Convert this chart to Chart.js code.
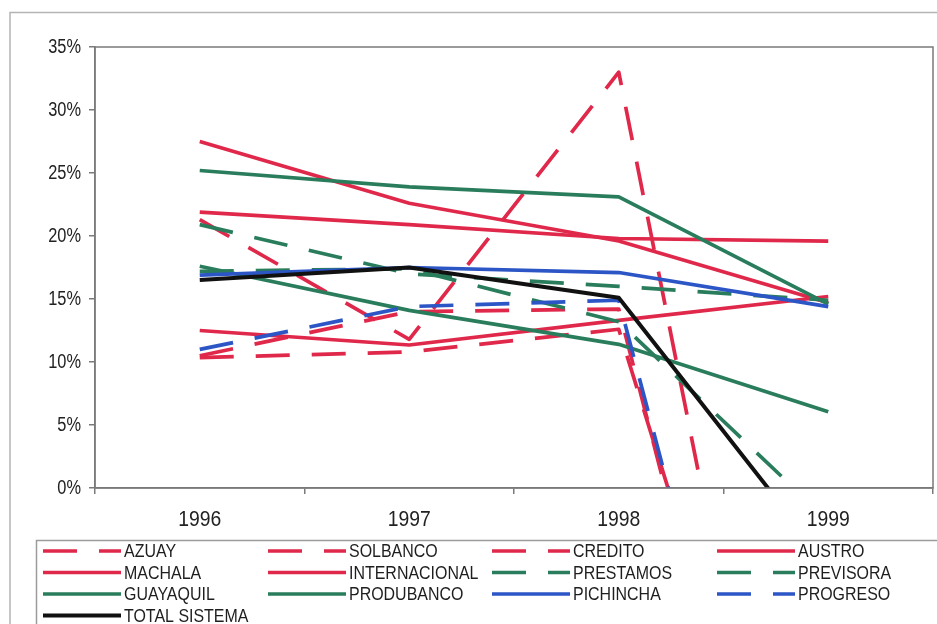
<!DOCTYPE html>
<html>
<head>
<meta charset="utf-8">
<script src="https://cdn.jsdelivr.net/npm/chart.js@4/dist/chart.umd.min.js"></script>
<style>
  html, body { margin: 0; padding: 0; background: #fff; }
  #wrap { position: relative; width: 937px; height: 624px; }
</style>
</head>
<body>
<div id="wrap"><canvas id="c" width="937" height="624"></canvas></div>
<script>
// Years on the category axis
const years = ['1996', '1997', '1998', '1999'];

// Return per bank, in percent
const azuay         = [21.3, 11.8, 33.0, -50.5];
const solbanco      = [10.5, 14.0, 14.2, -50.0];
const credito       = [10.35, 10.8, 12.6, -41.0];
const austro        = [21.9, 20.9, 19.8, 19.6];
const machala       = [27.5, 22.6, 19.6, 14.7];
const internacional = [12.5, 11.35, 13.3, 15.2];
const prestamos     = [17.2, 17.4, 13.2, -2.6];
const previsora     = [20.9, 17.0, 16.0, 14.9];
const guayaquil     = [25.2, 23.9, 23.1, 14.6];
const produbanco    = [17.6, 14.1, 11.4, 6.05];
const pichincha     = [16.9, 17.5, 17.1, 14.4];
const progreso      = [11.0, 14.4, 14.9, -48.0];
const totalSistema  = [16.5, 17.5, 15.1, -6.1];

// Axis range and tick step (percent)
const yMin = 0, yMax = 35, yStep = 5;

const RED = '#e0284b', GREEN = '#2a7d5c', BLUE = '#2c55c6', BLACK = '#111111';
const DASH = [34, 22];
const FONT = '"Liberation Sans", Arial, sans-serif';
const SQUEEZE = 0.84;   // narrow lettering, as in a condensed Arial

function series(label, data, color, dashed, width) {
  return {
    label, data,
    borderColor: color,
    backgroundColor: color,
    borderWidth: width || 3.7,
    borderDash: dashed ? DASH : [],
    borderCapStyle: 'butt',
    borderJoinStyle: 'round',
    pointRadius: 0,
    tension: 0,
    fill: false,
    clip: 0
  };
}

const datasets = [
  series('AZUAY', azuay, RED, true),
  series('SOLBANCO', solbanco, RED, true),
  series('CREDITO', credito, RED, true),
  series('AUSTRO', austro, RED, false),
  series('MACHALA', machala, RED, false),
  series('INTERNACIONAL', internacional, RED, false),
  series('PRESTAMOS', prestamos, GREEN, true),
  series('PREVISORA', previsora, GREEN, true),
  series('GUAYAQUIL', guayaquil, GREEN, false),
  series('PRODUBANCO', produbanco, GREEN, false),
  series('PICHINCHA', pichincha, BLUE, false),
  series('PROGRESO', progreso, BLUE, true),
  series('TOTAL SISTEMA', totalSistema, BLACK, false, 4)
];
// later series painted over earlier ones
datasets.forEach((d, i) => { d.order = -i; });

function squeezedText(ctx, text, x, y, align, sx) {
  ctx.save();
  ctx.translate(x, y);
  ctx.scale(sx, 1);
  ctx.textAlign = align;
  ctx.fillText(text, 0, 0);
  ctx.restore();
}

// Frame around the plot, axis lettering, outer border and the four-column key
const framePlugin = {
  id: 'frameAndKey',
  afterDraw(chart) {
    const ctx = chart.ctx;
    const a = chart.chartArea;
    ctx.save();
    // outer chart border
    ctx.strokeStyle = '#b4b4b4';
    ctx.lineWidth = 1.5;
    ctx.beginPath();
    ctx.moveTo(10, 640); ctx.lineTo(10, 12.5); ctx.lineTo(940, 12.5);
    ctx.stroke();
    // plot area box
    ctx.strokeStyle = '#7a7a7a';
    ctx.lineWidth = 1.5;
    ctx.strokeRect(a.left, a.top, a.right - a.left, a.bottom - a.top);

    // value axis labels
    const ys = chart.scales.y;
    ctx.fillStyle = '#222';
    ctx.textBaseline = 'middle';
    ctx.font = '19.5px ' + FONT;
    ys.ticks.forEach(t => {
      squeezedText(ctx, t.value + '%', a.left - 14, ys.getPixelForValue(t.value) + 1, 'right', SQUEEZE);
    });
    // category labels
    const xs = chart.scales.x;
    ctx.font = '22px ' + FONT;
    xs.ticks.forEach((t, i) => {
      squeezedText(ctx, chart.data.labels[i], xs.getPixelForTick(i), a.bottom + 32, 'center', 0.88);
    });

    // key box
    ctx.strokeStyle = '#9c9c9c';
    ctx.lineWidth = 1.5;
    ctx.strokeRect(36.5, 540.5, 960, 120);
    // key entries
    const colX = [43, 268, 492, 717];
    const rowY = [551, 572.5, 594, 615.5];
    ctx.font = '19px ' + FONT;
    ctx.textBaseline = 'middle';
    chart.data.datasets.forEach((ds, i) => {
      const x0 = colX[i % 4];
      const y = rowY[Math.floor(i / 4)];
      ctx.beginPath();
      ctx.setLineDash(ds.borderDash || []);
      ctx.strokeStyle = ds.borderColor;
      ctx.lineWidth = ds.borderWidth;
      ctx.lineCap = 'butt';
      ctx.moveTo(x0, y);
      ctx.lineTo(x0 + 78, y);
      ctx.stroke();
      ctx.setLineDash([]);
      ctx.fillStyle = '#1e1e1e';
      squeezedText(ctx, ds.label, x0 + 81, y + 1, 'left', SQUEEZE);
    });
    ctx.restore();
  }
};

new Chart(document.getElementById('c'), {
  type: 'line',
  data: { labels: years, datasets },
  options: {
    responsive: false,
    animation: false,
    devicePixelRatio: 1,
    layout: { padding: { left: 0, right: 4, top: 47, bottom: 88 } },
    plugins: { legend: { display: false }, tooltip: { enabled: false } },
    scales: {
      x: {
        offset: true,
        grid: { offset: true, drawOnChartArea: false, drawTicks: true, tickLength: 6, color: '#7a7a7a', lineWidth: 1.5 },
        border: { display: true, color: '#7a7a7a', width: 1.5 },
        ticks: { display: false },
        afterFit(s) { s.height = 48; }
      },
      y: {
        min: yMin, max: yMax,
        grid: { drawOnChartArea: false, drawTicks: true, tickLength: 6, color: '#7a7a7a', lineWidth: 1.5 },
        border: { display: true, color: '#7a7a7a', width: 1.5 },
        ticks: { stepSize: yStep, display: false },
        afterFit(s) { s.width = 95; }
      }
    }
  },
  plugins: [framePlugin]
});
</script>
</body>
</html>
